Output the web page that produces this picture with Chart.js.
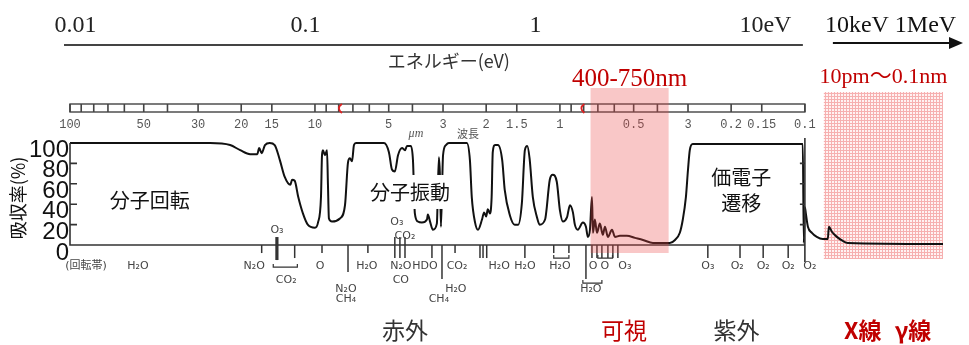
<!DOCTYPE html>
<html>
<head>
<meta charset="utf-8">
<script src="https://cdn.jsdelivr.net/npm/chart.js@4.4.1/dist/chart.umd.min.js"></script>
<style>
html,body{margin:0;padding:0;background:#fff;}
#wrap{width:969px;height:345px;position:relative;}
</style>
</head>
<body>
<div id="wrap"><canvas id="c" width="969" height="345"></canvas></div>
<script>
// ---------------- data (wavelength in µm, absorption in %) ----------------
const wavelength = [100, 26.8, 22.2, 20.2, 18.4, 17.2, 16.9, 16.5, 16.0, 15.3, 14.6, 13.9, 13.3, 12.6, 12.4, 12.1,
  11.7, 11.2, 10.7, 10.0, 9.72, 9.45, 9.36, 9.28, 9.10, 8.93, 8.85, 8.77, 8.52, 7.91, 7.54, 7.33, 7.20, 7.06,
  6.93, 6.80, 5.23, 4.99, 4.85, 4.72, 4.58, 4.41, 4.29, 4.21, 4.06, 3.98, 3.91, 3.80, 3.66, 3.49, 3.46, 3.39,
  3.30, 3.18, 3.12, 3.09, 3.06, 3.00, 2.92, 2.84, 2.40, 2.33, 2.29, 2.22, 2.16, 2.08, 2.04, 2.00, 1.97, 1.93,
  1.90, 1.88, 1.84, 1.79, 1.72, 1.68, 1.60, 1.53, 1.48, 1.43, 1.39, 1.36, 1.33, 1.29, 1.24, 1.21, 1.15, 1.10,
  1.07, 1.03, 1.00, 0.972, 0.936, 0.910, 0.885, 0.869, 0.845, 0.806, 0.783, 0.769, 0.754, 0.740, 0.733, 0.720,
  0.706, 0.687, 0.668, 0.655, 0.637, 0.613, 0.596, 0.569, 0.533, 0.494, 0.458, 0.417, 0.380, 0.356, 0.339,
  0.324, 0.315, 0.306, 0.300, 0.295, 0.287, 0.102, 0.101, 0.100, 0.0991, 0.0972, 0.0936, 0.0894, 0.0845,
  0.0806, 0.0798, 0.0776, 0.0740, 0.0700, 0.0668, 0.0273];
const absorption = [100, 100, 98, 93, 89, 89, 95, 90, 98, 100, 98, 83, 67, 59, 64, 63,
  47, 31, 20, 17, 22, 47, 88, 93, 88, 93, 59, 26, 23, 26, 39, 81, 85, 82,
  98, 100, 100, 91, 74, 72, 88, 95, 93, 97, 97, 83, 31, 23, 22, 25, 30, 23,
  15, 21, 86, 69, 18, 88, 98, 100, 100, 83, 47, 22, 15, 25, 32, 28, 35, 31,
  47, 91, 98, 98, 83, 54, 29, 20, 20, 41, 93, 97, 85, 47, 27, 20, 25, 64,
  69, 62, 34, 23, 27, 39, 32, 20, 15, 22, 18, 8, 15, 47, 12, 25,
  12, 21, 10, 18, 8, 15, 8, 9, 9, 7, 5, 2, 2, 2, 5,
  12, 25, 47, 74, 93, 99, 99, 2, 37, 31, 18, 12, 8, 6,
  6, 18, 13, 8, 4, 2, 1];

const yTickValues = [0, 20, 40, 60, 80, 100];
const wlTickValues = [100, 50, 30, 20, 15, 10, 5, 3, 2, 1.5, 1, 0.5, 0.3, 0.2, 0.15, 0.1];
const wlTickLabels = ['100', '50', '30', '20', '15', '10', '5', '3', '2', '1.5', '1', '0.5', '3', '0.2', '0.15', '0.1'];
const rulerDivisions = [100, 90, 80, 70, 60, 50, 40, 30, 20, 15, 10, 9, 8, 7, 6, 5, 4, 3, 2, 1.5, 1, 0.9, 0.8,
  0.7, 0.6, 0.5, 0.4, 0.3, 0.2, 0.15, 0.1];
const rulerRedMarks = [7.91, 0.81];
const energyTickValues = [0.01, 0.1, 1, 10];
const energyTickLabels = ['0.01', '0.1', '1', '10eV'];
const visibleBand = [0.75, 0.36];
const xrayBand = [0.0837, 0.0273];

const regionNames = ['分子回転', '分子振動', '価電子', '遷移'];
const regionWl = [47.2, 4.09, 0.182, 0.182];
const regionAbs = [44, 52, 66, 41];

const bandNames = ['赤外', '可視', '紫外', 'X線', 'γ線'];
const bandWl = [4.29, 0.548, 0.19, 0.058, 0.0362];

const moleculeNames = ['(回転帯)', 'H₂O', 'N₂O', 'O₃', 'CO₂', 'O', 'N₂O', 'CH₄', 'H₂O', 'O₃', 'CO₂', 'N₂O', 'CO',
  'HDO', 'CO₂', 'H₂O', 'CH₄', 'H₂O', 'H₂O', 'H₂O', 'O', 'O', 'O₃', 'H₂O', 'O₃', 'O₂', 'O₂', 'O₂', 'O₂'];
const moleculeWl = [86.1, 52.8, 17.7, 14.3, 13.1, 9.54, 7.47, 7.47, 6.14, 4.63, 4.29, 4.46, 4.46,
  3.56, 2.63, 2.66, 3.12, 1.77, 1.39, 1.0, 0.733, 0.655, 0.543, 0.748, 0.249, 0.189, 0.148, 0.117, 0.0954];
const moleculeRow = [0, 0, 0, -2, 1, 0, 2, 3, 0, -3, -1, 0, 1, 0, 0, 2, 3, 0, 0, 0, 0, 0, 0, 2, 0, 0, 0, 0, 0];

const lineTickWl = [16.5, 14.3, 12.1, 9.36, 7.33, 6.08, 4.72, 4.50, 4.29, 3.33, 3.03, 2.68, 2.12, 2.06, 1.99,
  1.39, 1.06, 0.919, 0.783, 0.740, 0.706, 0.674, 0.637, 0.608, 0.580, 0.249, 0.184, 0.148, 0.117];
const lineTickKind = [0, 4, 1, 0, 2, 0, 5, 5, 5, 1, 3, 0, 1, 1, 1, 1, 0, 0, 3, 1, 1, 1, 1, 1, 1, 1, 1, 1, 1];

const bracketFrom = [14.8, 1.06, 0.806, 0.70];
const bracketTo = [11.8, 0.919, 0.674, 0.61];
const bracketRow = [1, 0, 2, 0];

const smallNotes = ['μm', '波長'];
const smallNotesWl = [3.87, 2.37];

// ---------------- styles / layout ----------------
const ROW_DY = { '-3': -23, '-2': -15, '-1': -9, '0': 21, '1': 35, '2': 44, '3': 54 };
const TICK_EXT = [[0, 8], [0, 13], [0, 27], [0, 34], [8, 15], [8, 13]];
const BRACKET_DY = [13, 22, 38];
const REGION_BOX = [false, true, false, false];
const BAND_COLORS = ['#333', '#c00000', '#333', '#c00000', '#c00000'];
const BAND_WEIGHT = ['normal', 'normal', 'normal', 'bold', 'bold'];
const RED = '#c00000';
const CJK = "'Noto Sans CJK JP'";
const SERIF = "'Liberation Serif', 'Noto Sans CJK JP'";

function put(ctx, s, x, y, font, color, align, base) {
  ctx.font = font; ctx.fillStyle = color;
  ctx.textAlign = align || 'center'; ctx.textBaseline = base || 'middle';
  ctx.fillText(s, x, y);
}
function makePattern(ctx) {
  const c = document.createElement('canvas'); c.width = 3; c.height = 3;
  const g = c.getContext('2d');
  g.fillStyle = '#fff2f2'; g.fillRect(0, 0, 3, 3);
  g.fillStyle = '#f6b0b0'; g.fillRect(0, 0, 3, 1); g.fillRect(0, 0, 1, 3);
  return ctx.createPattern(c, 'repeat');
}

const decor = {
  id: 'decor',
  beforeDatasetsDraw(chart) {
    const { ctx, chartArea: ca, scales: { x } } = chart;
    ctx.save();
    const x0 = x.getPixelForValue(xrayBand[0]), x1 = x.getPixelForValue(xrayBand[1]);
    ctx.fillStyle = makePattern(ctx);
    ctx.fillRect(x0, 92, x1 - x0, ca.bottom + 6 - 92);
    ctx.restore();
  },
  afterDatasetsDraw(chart) {
    const { ctx, chartArea: ca, scales: { x, xE, y } } = chart;
    const X = v => x.getPixelForValue(v), Y = v => y.getPixelForValue(v);
    const xL = X(100), xR = X(0.1), y0 = Y(0), y100 = Y(100);
    ctx.save();

    // region captions
    const rFont = '20px ' + CJK;
    ctx.font = rFont;
    regionNames.forEach((s, i) => {
      if (!REGION_BOX[i]) return;
      const w = ctx.measureText(s).width + 18;
      ctx.fillStyle = '#fff';
      ctx.fillRect(X(regionWl[i]) - w / 2, Y(regionAbs[i]) - 17, w, 34);
    });
    regionNames.forEach((s, i) => put(ctx, s, X(regionWl[i]), Y(regionAbs[i]), rFont, '#111'));

    // frame
    ctx.strokeStyle = '#333'; ctx.lineWidth = 1.6;
    ctx.beginPath();
    ctx.moveTo(xL, y100); ctx.lineTo(xL, y0); ctx.lineTo(xR, y0);
    ctx.moveTo(xR, y100 - 5); ctx.lineTo(xR, y0 + 17);
    [20, 40, 60, 80].forEach(v => {
      ctx.moveTo(xL, Y(v)); ctx.lineTo(xL + 7, Y(v));
      ctx.moveTo(xR, Y(v)); ctx.lineTo(xR - 5, Y(v));
    });
    ctx.stroke();

    // absorption-line ticks
    lineTickWl.forEach((w, i) => {
      const k = lineTickKind[i], e = TICK_EXT[k];
      ctx.lineWidth = (k === 4) ? 3.2 : 1.5;
      ctx.beginPath(); ctx.moveTo(X(w), y0 - e[0]); ctx.lineTo(X(w), y0 + e[1]); ctx.stroke();
    });
    // brackets
    ctx.lineWidth = 1.2;
    bracketFrom.forEach((w, i) => {
      const a = X(w), b = X(bracketTo[i]), yy = y0 + BRACKET_DY[bracketRow[i]];
      ctx.beginPath(); ctx.moveTo(a, yy - 3); ctx.lineTo(a, yy); ctx.lineTo(b, yy); ctx.lineTo(b, yy - 3); ctx.stroke();
    });
    // molecule labels
    moleculeNames.forEach((s, i) => {
      put(ctx, s, X(moleculeWl[i]), y0 + ROW_DY[moleculeRow[i]], "11px 'DejaVu Sans', " + CJK, '#444');
    });

    // wavelength ruler
    const rT = 104, rB = 112;
    ctx.strokeStyle = '#444'; ctx.lineWidth = 1.4;
    ctx.strokeRect(xL, rT, xR - xL, rB - rT);
    ctx.lineWidth = 1.6;
    ctx.beginPath();
    rulerDivisions.forEach(w => { ctx.moveTo(X(w), rT); ctx.lineTo(X(w), rB); });
    ctx.stroke();
    ctx.strokeStyle = '#e02020'; ctx.lineWidth = 1.8;
    ctx.beginPath();
    rulerRedMarks.forEach(w => { ctx.moveTo(X(w) + 2, rT); ctx.quadraticCurveTo(X(w) - 4, (rT + rB) / 2, X(w) + 2, rB + 1); });
    ctx.stroke();
    wlTickValues.forEach((w, i) => put(ctx, wlTickLabels[i], X(w), 128, "12px 'Liberation Mono'", '#555', 'center', 'alphabetic'));
    put(ctx, smallNotes[0], X(smallNotesWl[0]), 134, "italic 12px 'Liberation Serif'", '#555');
    put(ctx, smallNotes[1], X(smallNotesWl[1]), 134, '11px ' + CJK, '#555');

    // energy axis
    ctx.strokeStyle = '#444'; ctx.lineWidth = 2;
    ctx.beginPath(); ctx.moveTo(xL - 6, 45); ctx.lineTo(xR - 2, 45); ctx.stroke();
    energyTickValues.forEach((e, i) => put(ctx, energyTickLabels[i], xE.getPixelForValue(e), 32, '24px ' + SERIF, '#222', 'center', 'alphabetic'));
    put(ctx, 'エネルギー(eV)', xE.getPixelForValue(0.42), 61, '18px ' + CJK, '#333');
    put(ctx, '10keV 1MeV', xR + 20, 32, '24px ' + SERIF, '#111', 'left', 'alphabetic');
    ctx.strokeStyle = '#111'; ctx.lineWidth = 2.2;
    ctx.beginPath(); ctx.moveTo(xR + 28, 43); ctx.lineTo(ca.right + 8, 43); ctx.stroke();
    ctx.fillStyle = '#111';
    ctx.beginPath(); ctx.moveTo(ca.right + 20, 43); ctx.lineTo(ca.right + 6, 37); ctx.lineTo(ca.right + 6, 49); ctx.closePath(); ctx.fill();

    // visible band overlay
    const v0 = X(visibleBand[0]), v1 = X(visibleBand[1]);
    ctx.fillStyle = 'rgba(235,70,70,0.30)';
    ctx.fillRect(v0, 88, v1 - v0, ca.bottom - 88);
    put(ctx, '400-750nm', (v0 + v1) / 2, 86, '25px ' + SERIF, RED, 'center', 'alphabetic');
    const x0 = X(xrayBand[0]), x1 = X(xrayBand[1]);
    put(ctx, '10pm～0.1nm', (x0 + x1) / 2, 83, '22px ' + SERIF, RED, 'center', 'alphabetic');

    // spectral region names
    bandNames.forEach((s, i) => put(ctx, s, X(bandWl[i]), 330, BAND_WEIGHT[i] + ' 23px ' + CJK, BAND_COLORS[i]));
    ctx.restore();
  }
};

new Chart(document.getElementById('c').getContext('2d'), {
  type: 'line',
  data: {
    datasets: [{
      data: wavelength.map((w, i) => ({ x: w, y: absorption[i] })),
      borderColor: '#111', borderWidth: 2, pointRadius: 0,
      cubicInterpolationMode: 'monotone', clip: false,
      xAxisID: 'x', yAxisID: 'y'
    }]
  },
  options: {
    responsive: false, animation: false, devicePixelRatio: 1,
    layout: { padding: { left: 0, right: 26, top: 143, bottom: 92 } },
    plugins: { legend: { display: false }, tooltip: { enabled: false } },
    scales: {
      x: { type: 'logarithmic', reverse: true, min: 0.0273, max: 100, display: false },
      xE: { type: 'logarithmic', axis: 'x', position: 'top', min: 0.00946, max: 59.2, display: false },
      y: { type: 'linear', min: -7.8, max: 100, display: false },
      yL: {
        type: 'linear', position: 'left', min: 0, max: 106.8,
        afterBuildTicks: s => { s.ticks = yTickValues.map(v => ({ value: v })); },
        afterFit: s => { s.width = 70; },
        grid: { display: false, drawTicks: false }, border: { display: false },
        ticks: { autoSkip: false, font: { family: 'Liberation Sans', size: 24 }, color: '#111', padding: 1 },
        title: { display: true, text: '吸収率(%)', font: { family: 'Noto Sans CJK JP', size: 18 }, color: '#111', padding: { top: 7, bottom: 0 } }
      }
    }
  },
  plugins: [decor]
});
</script>
</body>
</html>
